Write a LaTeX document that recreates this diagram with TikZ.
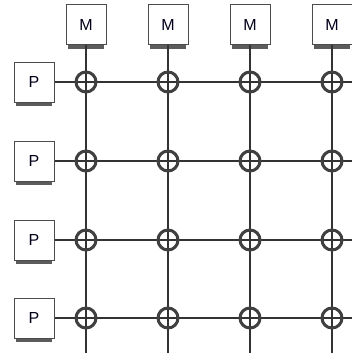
\documentclass[tikz,border=0pt]{standalone}
\usepackage{fontspec}
\setmainfont{Liberation Sans}
\usetikzlibrary{shadows}

\begin{document}
\begin{tikzpicture}[x=1pt, y=-1pt, every node/.style={font=\fontsize{16}{19}\selectfont},
	unit/.style={draw=black!70, fill=white, line width=1pt, minimum size=40pt, inner sep=0pt, text=black!90!blue,
		drop shadow={shadow xshift=0pt, shadow yshift=-7pt, shadow scale=0.9, fill=black!80, opacity=0.8}},
	wire/.style={draw=black!80, line width=2pt},
	switch/.style={circle, draw=black!75, line width=3pt, minimum size=20pt, inner sep=0pt}]
	\useasboundingbox (0,0) rectangle (352,353);
	\foreach \i/\x in {1/86,2/168,3/250,4/332} {
		\node[unit] (m\i) at (\x,25) {M};
		\coordinate (b\i) at (\x,353);
	}
	\foreach \j/\y in {1/82,2/161,3/240,4/318} {
		\node[unit] (p\j) at (34,\y) {P};
		\coordinate (r\j) at (352,\y);
	}
	\foreach \i in {1,...,4} \draw[wire] (m\i) -- (b\i);
	\foreach \j in {1,...,4} \draw[wire] (p\j) -- (r\j);
	% crossing points
	\foreach \i in {1,...,4}
		\foreach \j in {1,...,4}
			\node[switch] (c\j\i) at (m\i |- p\j) {};
\end{tikzpicture}
\end{document}
